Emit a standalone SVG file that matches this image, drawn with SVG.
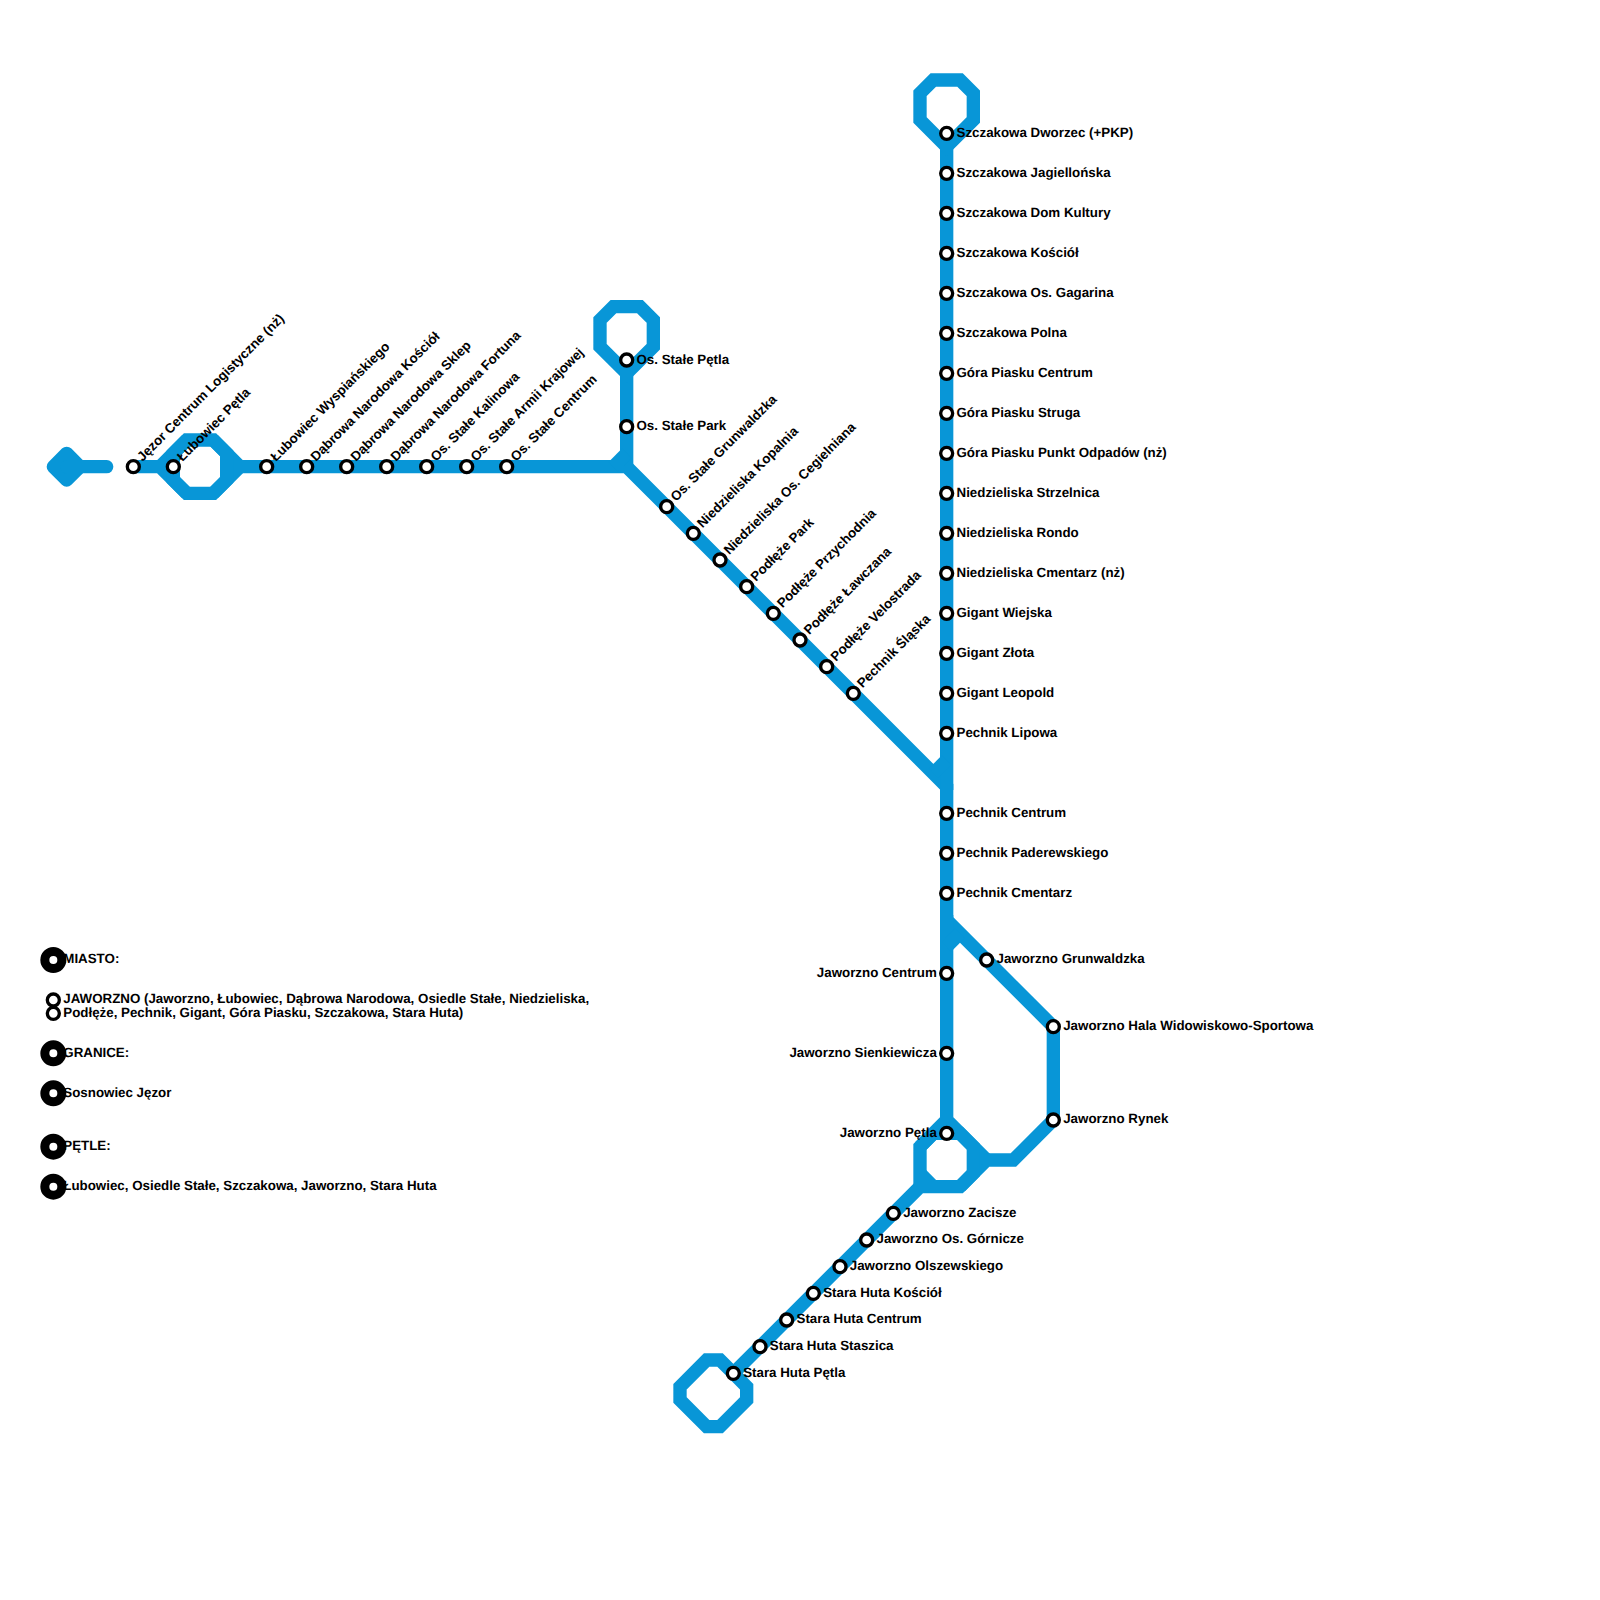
<svg xmlns="http://www.w3.org/2000/svg" width="1600" height="1600" viewBox="0 0 1600 1600">
<style>
.l{fill:none;stroke:#0896d7;stroke-width:13.33;stroke-linejoin:miter;stroke-miterlimit:4}
.t{fill:#0896d7;stroke:#0896d7;stroke-width:13.33;stroke-linejoin:round}
.c{fill:none;stroke:#0896d7;stroke-width:13.33;stroke-linecap:round}
text{font-family:"Liberation Sans",Arial,sans-serif;font-size:13.33px;font-weight:700;fill:#000;text-rendering:geometricPrecision}
.e{text-anchor:end}
.s circle{fill:#fff;stroke:#000;stroke-width:3.33}
.b circle{fill:#fff;stroke:#000;stroke-width:9}
</style>
<rect width="1600" height="1600" fill="#fff"/>
<g id="connectors">
<path class="t" d="M66.67 453.33L80 466.67L66.67 480L53.33 466.67Z"/>
<path class="c" d="M66.67 466.67H106.67"/>
<path class="l" d="M133.33 466.67H160L186.67 440H213.33L240 466.67L213.33 493.33H186.67L160 466.67"/>
<path class="l" d="M186.67 440L173.33 453.33V480L186.67 493.33M213.33 440L226.67 453.33V480L213.33 493.33"/>
<path class="l" d="M240 466.67H626.67L946.67 786.67V920L1053.33 1026.67V1120L1013.33 1160H986.67L960 1186.67H920L733.33 1373.33"/>
<path class="l" d="M946.67 146.67V790"/>
<path class="l" d="M946.67 760L933.33 773.33"/>
<path class="l" d="M946.67 146.67L920 120V93.33L933.33 80H960L973.33 93.33V120Z"/>
<path class="l" d="M626.67 373.33V466.67"/>
<path class="l" d="M626.67 453.33L613.33 466.67"/>
<path class="l" d="M626.67 373.33L600 346.67V320L613.33 306.67H640L653.33 320V346.67Z"/>
<path class="l" d="M946.67 915V1120L986.67 1160"/>
<path class="l" d="M960 933.33L946.67 946.67"/>
<path class="l" d="M946.67 1120L920 1146.67V1186.67"/>
<path class="l" d="M920 1173.33L933.33 1186.67M933.33 1133.33H960L973.33 1146.67V1173.33L960 1186.67M920 1146.67L933.33 1133.33"/>
<path class="l" d="M733.33 1373.33L720 1360H706.67L680 1386.67V1400L706.67 1426.67H720L746.67 1400V1386.67Z"/>
</g>
<g id="s01" class="s"><text transform="translate(142.5 461.9) rotate(-45)">Jęzor Centrum Logistyczne (nż)</text><circle cx="133.33" cy="466.67" r="6"/></g>
<g id="s02" class="s"><text transform="translate(182.5 461.9) rotate(-45)">Łubowiec Pętla</text><circle cx="173.33" cy="466.67" r="6"/></g>
<g id="s03" class="s"><text transform="translate(275.9 461.9) rotate(-45)">Łubowiec Wyspiańskiego</text><circle cx="266.67" cy="466.67" r="6"/></g>
<g id="s04" class="s"><text transform="translate(315.9 461.9) rotate(-45)">Dąbrowa Narodowa Kościół</text><circle cx="306.67" cy="466.67" r="6"/></g>
<g id="s05" class="s"><text transform="translate(355.9 461.9) rotate(-45)">Dąbrowa Narodowa Sklep</text><circle cx="346.67" cy="466.67" r="6"/></g>
<g id="s06" class="s"><text transform="translate(395.9 461.9) rotate(-45)">Dąbrowa Narodowa Fortuna</text><circle cx="386.67" cy="466.67" r="6"/></g>
<g id="s07" class="s"><text transform="translate(435.9 461.9) rotate(-45)">Os. Stałe Kalinowa</text><circle cx="426.67" cy="466.67" r="6"/></g>
<g id="s08" class="s"><text transform="translate(475.9 461.9) rotate(-45)">Os. Stałe Armii Krajowej</text><circle cx="466.67" cy="466.67" r="6"/></g>
<g id="s09" class="s"><text transform="translate(515.9 461.9) rotate(-45)">Os. Stałe Centrum</text><circle cx="506.67" cy="466.67" r="6"/></g>
<g id="s10" class="s"><text x="636.5" y="363.7">Os. Stałe Pętla</text><circle cx="626.67" cy="360" r="6"/></g>
<g id="s11" class="s"><text x="636.5" y="430.4">Os. Stałe Park</text><circle cx="626.67" cy="426.67" r="6"/></g>
<g id="s12" class="s"><text transform="translate(675.9 501.9) rotate(-45)">Os. Stałe Grunwaldzka</text><circle cx="666.67" cy="506.67" r="6"/></g>
<g id="s13" class="s"><text transform="translate(702.5 528.5) rotate(-45)">Niedzieliska Kopalnia</text><circle cx="693.33" cy="533.33" r="6"/></g>
<g id="s14" class="s"><text transform="translate(729.2 555.2) rotate(-45)">Niedzieliska Os. Cegielniana</text><circle cx="720" cy="560" r="6"/></g>
<g id="s15" class="s"><text transform="translate(755.9 581.9) rotate(-45)">Podłęże Park</text><circle cx="746.67" cy="586.67" r="6"/></g>
<g id="s16" class="s"><text transform="translate(782.5 608.5) rotate(-45)">Podłęże Przychodnia</text><circle cx="773.33" cy="613.33" r="6"/></g>
<g id="s17" class="s"><text transform="translate(809.2 635.2) rotate(-45)">Podłęże Ławczana</text><circle cx="800" cy="640" r="6"/></g>
<g id="s18" class="s"><text transform="translate(835.9 661.9) rotate(-45)">Podłęże Velostrada</text><circle cx="826.67" cy="666.67" r="6"/></g>
<g id="s19" class="s"><text transform="translate(862.5 688.5) rotate(-45)">Pechnik Śląska</text><circle cx="853.33" cy="693.33" r="6"/></g>
<g id="s20" class="s"><text x="956.5" y="136.7">Szczakowa Dworzec (+PKP)</text><circle cx="946.67" cy="133.33" r="6"/></g>
<g id="s21" class="s"><text x="956.5" y="176.7">Szczakowa Jagiellońska</text><circle cx="946.67" cy="173.33" r="6"/></g>
<g id="s22" class="s"><text x="956.5" y="216.7">Szczakowa Dom Kultury</text><circle cx="946.67" cy="213.33" r="6"/></g>
<g id="s23" class="s"><text x="956.5" y="256.7">Szczakowa Kościół</text><circle cx="946.67" cy="253.33" r="6"/></g>
<g id="s24" class="s"><text x="956.5" y="296.7">Szczakowa Os. Gagarina</text><circle cx="946.67" cy="293.33" r="6"/></g>
<g id="s25" class="s"><text x="956.5" y="336.7">Szczakowa Polna</text><circle cx="946.67" cy="333.33" r="6"/></g>
<g id="s26" class="s"><text x="956.5" y="376.7">Góra Piasku Centrum</text><circle cx="946.67" cy="373.33" r="6"/></g>
<g id="s27" class="s"><text x="956.5" y="416.7">Góra Piasku Struga</text><circle cx="946.67" cy="413.33" r="6"/></g>
<g id="s28" class="s"><text x="956.5" y="456.7">Góra Piasku Punkt Odpadów (nż)</text><circle cx="946.67" cy="453.33" r="6"/></g>
<g id="s29" class="s"><text x="956.5" y="496.7">Niedzieliska Strzelnica</text><circle cx="946.67" cy="493.33" r="6"/></g>
<g id="s30" class="s"><text x="956.5" y="536.7">Niedzieliska Rondo</text><circle cx="946.67" cy="533.33" r="6"/></g>
<g id="s31" class="s"><text x="956.5" y="576.7">Niedzieliska Cmentarz (nż)</text><circle cx="946.67" cy="573.33" r="6"/></g>
<g id="s32" class="s"><text x="956.5" y="616.7">Gigant Wiejska</text><circle cx="946.67" cy="613.33" r="6"/></g>
<g id="s33" class="s"><text x="956.5" y="656.7">Gigant Złota</text><circle cx="946.67" cy="653.33" r="6"/></g>
<g id="s34" class="s"><text x="956.5" y="696.7">Gigant Leopold</text><circle cx="946.67" cy="693.33" r="6"/></g>
<g id="s35" class="s"><text x="956.5" y="736.7">Pechnik Lipowa</text><circle cx="946.67" cy="733.33" r="6"/></g>
<g id="s36" class="s"><text x="956.5" y="816.7">Pechnik Centrum</text><circle cx="946.67" cy="813.33" r="6"/></g>
<g id="s37" class="s"><text x="956.5" y="856.7">Pechnik Paderewskiego</text><circle cx="946.67" cy="853.33" r="6"/></g>
<g id="s38" class="s"><text x="956.5" y="896.7">Pechnik Cmentarz</text><circle cx="946.67" cy="893.33" r="6"/></g>
<g id="s39" class="s"><text x="996.5" y="963.4">Jaworzno Grunwaldzka</text><circle cx="986.67" cy="960" r="6"/></g>
<g id="s40" class="s"><text x="1063.2" y="1030">Jaworzno Hala Widowiskowo-Sportowa</text><circle cx="1053.33" cy="1026.67" r="6"/></g>
<g id="s41" class="s"><text x="1063.2" y="1123.4">Jaworzno Rynek</text><circle cx="1053.33" cy="1120" r="6"/></g>
<g id="s42" class="s"><text class="e" x="936.8" y="976.7">Jaworzno Centrum</text><circle cx="946.67" cy="973.33" r="6"/></g>
<g id="s43" class="s"><text class="e" x="936.8" y="1056.7">Jaworzno Sienkiewicza</text><circle cx="946.67" cy="1053.33" r="6"/></g>
<g id="s44" class="s"><text class="e" x="936.8" y="1136.7">Jaworzno Pętla</text><circle cx="946.67" cy="1133.33" r="6"/></g>
<g id="s45" class="s"><text x="903.2" y="1216.7">Jaworzno Zacisze</text><circle cx="893.33" cy="1213.33" r="6"/></g>
<g id="s46" class="s"><text x="876.5" y="1243.4">Jaworzno Os. Górnicze</text><circle cx="866.67" cy="1240" r="6"/></g>
<g id="s47" class="s"><text x="849.8" y="1270">Jaworzno Olszewskiego</text><circle cx="840" cy="1266.67" r="6"/></g>
<g id="s48" class="s"><text x="823.2" y="1296.7">Stara Huta Kościół</text><circle cx="813.33" cy="1293.33" r="6"/></g>
<g id="s49" class="s"><text x="796.5" y="1323.4">Stara Huta Centrum</text><circle cx="786.67" cy="1320" r="6"/></g>
<g id="s50" class="s"><text x="769.8" y="1350">Stara Huta Staszica</text><circle cx="760" cy="1346.67" r="6"/></g>
<g id="s51" class="s"><text x="743.2" y="1376.7">Stara Huta Pętla</text><circle cx="733.33" cy="1373.33" r="6"/></g>
<g id="legend-miasto" class="b"><text x="63.3" y="963.4">MIASTO:</text><circle cx="53.33" cy="960" r="8.5"/></g>
<g id="legend-jaworzno-1" class="s"><text x="63.3" y="1003.4">JAWORZNO (Jaworzno, Łubowiec, Dąbrowa Narodowa, Osiedle Stałe, Niedzieliska,</text><circle cx="53.33" cy="1000" r="6"/></g>
<g id="legend-jaworzno-2" class="s"><text x="63.3" y="1016.7">Podłęże, Pechnik, Gigant, Góra Piasku, Szczakowa, Stara Huta)</text><circle cx="53.33" cy="1013.33" r="6"/></g>
<g id="legend-granice" class="b"><text x="63.3" y="1056.7">GRANICE:</text><circle cx="53.33" cy="1053.33" r="8.5"/></g>
<g id="legend-jezor" class="b"><text x="63.3" y="1096.7">Sosnowiec Jęzor</text><circle cx="53.33" cy="1093.33" r="8.5"/></g>
<g id="legend-petle" class="b"><text x="63.3" y="1150">PĘTLE:</text><circle cx="53.33" cy="1146.67" r="8.5"/></g>
<g id="legend-petle-list" class="b"><text x="63.3" y="1190">Łubowiec, Osiedle Stałe, Szczakowa, Jaworzno, Stara Huta</text><circle cx="53.33" cy="1186.67" r="8.5"/></g>
</svg>
